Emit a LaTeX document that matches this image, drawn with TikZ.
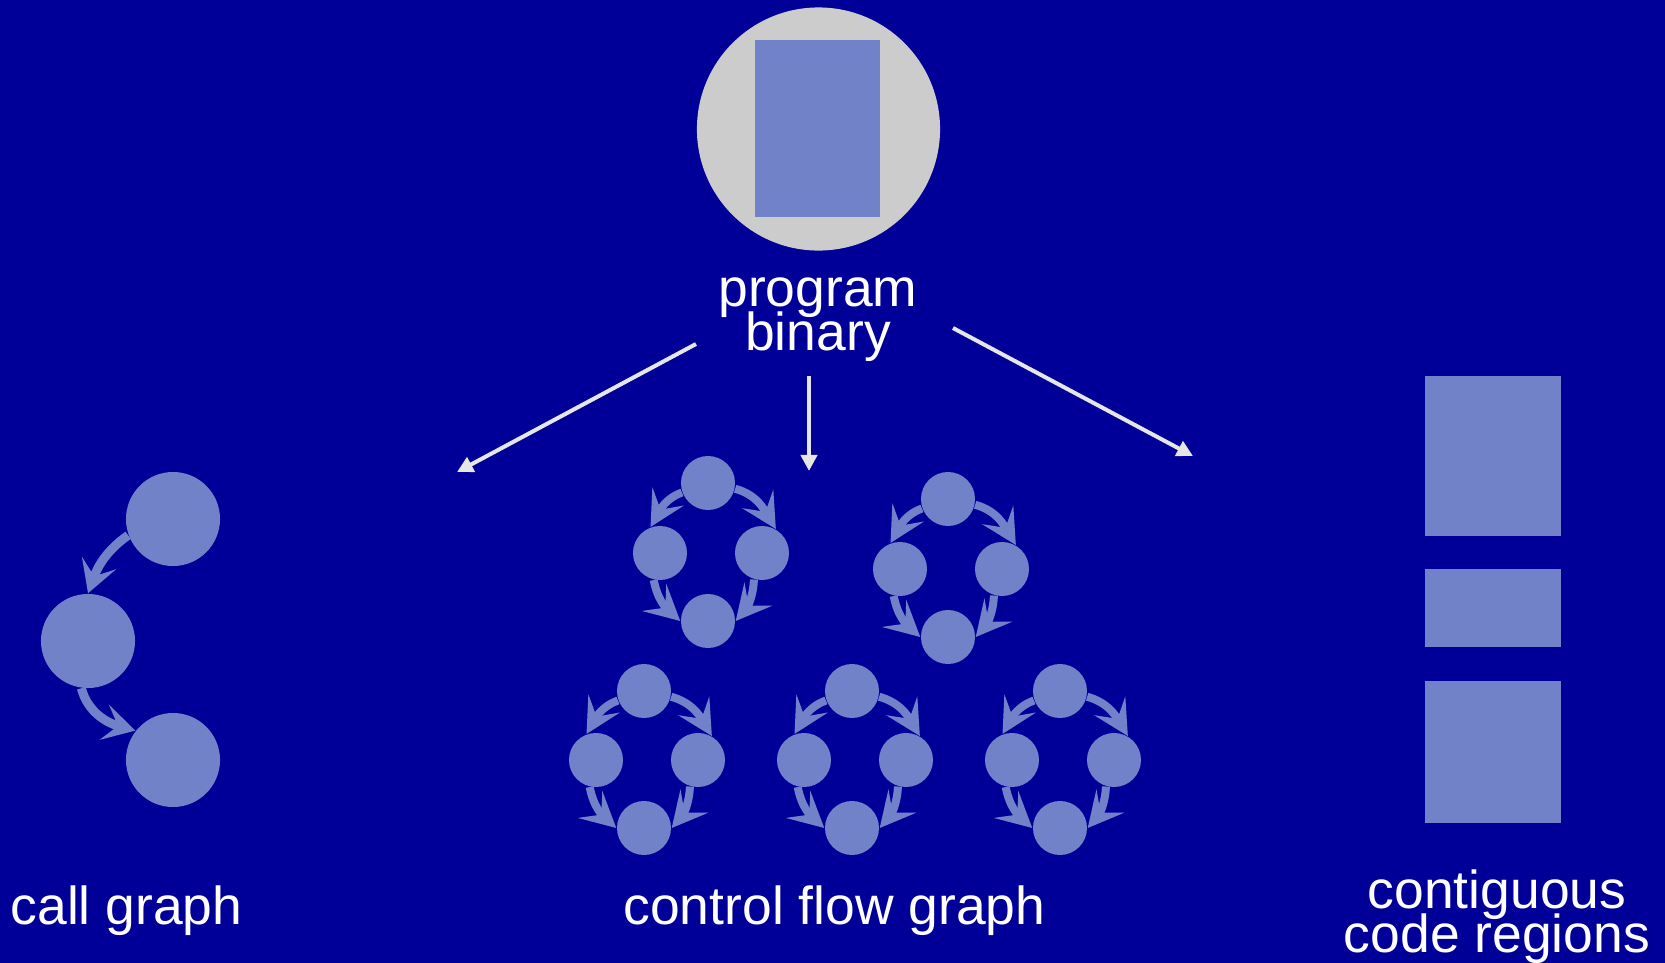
\documentclass[tikz,border=0pt]{standalone}
\usepackage{fontspec}
\setmainfont{Liberation Sans}
\usetikzlibrary{arrows.meta}

\definecolor{bgblue}{RGB}{0,0,153}
\definecolor{nodeblue}{RGB}{114,130,200}
\definecolor{binarygray}{RGB}{204,204,204}
\definecolor{feedwhite}{RGB}{230,230,230}

\tikzset{
  label/.style={text=white, inner sep=0pt, font={\fontsize{15.2}{12.5}\selectfont\lineskiplimit=-10pt}},
  cgnode/.style={circle, fill=nodeblue, minimum size=0.94cm, inner sep=0pt},
  cfnode/.style={circle, fill=nodeblue, minimum size=0.54cm, inner sep=0pt},
  region/.style={rectangle, fill=nodeblue, minimum width=1.36cm, inner sep=0pt},
  cgedge/.style={draw=nodeblue, line width=0.09cm, -{Stealth[length=0.32cm, width=0.36cm, inset=0.14cm]}},
  cfedge/.style={draw=nodeblue, line width=0.08cm, -{Stealth[length=0.35cm, width=0.36cm, inset=0.15cm]}},
  feed/.style={draw=feedwhite, line width=0.04cm, -{Triangle[length=0.16cm, width=0.16cm]}}
}

\begin{document}
\begin{tikzpicture}[x=0.01cm, y=-0.01cm]
\useasboundingbox (0,0) rectangle (1665,963);
\fill[bgblue] (0,0) rectangle (1665,963);

% the program binary
\node[circle, fill=binarygray, minimum size=2.43cm, inner sep=0pt] (bin) at (818.5,129) {};
\node[rectangle, fill=nodeblue, minimum width=1.25cm, minimum height=1.77cm, inner sep=0pt] (bin-doc) at (817.5,128.5) {};
\node[label, align=center, anchor=base] (bin-label) at (818,350) {program\\binary};

\coordinate (feed-cg-from) at (696,344);
\coordinate (feed-cg-to) at (457,472);
\coordinate (feed-cf-from) at (809,376);
\coordinate (feed-cf-to) at (809,471);
\coordinate (feed-cr-from) at (953,328);
\coordinate (feed-cr-to) at (1193,456);
\draw[feed] (feed-cg-from) -- (feed-cg-to);
\draw[feed] (feed-cf-from) -- (feed-cf-to);
\draw[feed] (feed-cr-from) -- (feed-cr-to);

% call graph
\node[cgnode] (cg-a) at (173,519) {};
\node[cgnode] (cg-b) at (88,641) {};
\node[cgnode] (cg-c) at (173,760) {};
\draw[cgedge] (cg-a.200) to[out=215, in=70] (cg-b.90);
\draw[cgedge] (cg-b.262) to[out=285, in=165] (cg-c.142);
\node[label, anchor=base] (cg-label) at (126.5,924) {call graph};

% control flow graphs
\node[cfnode] (c1-t) at (708,483) {};
\node[cfnode] (c1-l) at (660,553) {};
\node[cfnode] (c1-r) at (762,553) {};
\node[cfnode] (c1-b) at (708,621) {};
\draw[cfedge] (c1-t.200) to[out=200, in=60] (c1-l.110);
\draw[cfedge] (c1-t.348) to[out=-15, in=121] (c1-r.60);
\draw[cfedge] (c1-l.257) to[out=280, in=138] (c1-b.180);
\draw[cfedge] (c1-r.253) to[out=268, in=50] (c1-b.0);

\node[cfnode] (c2-t) at (948,499) {};
\node[cfnode] (c2-l) at (900,569) {};
\node[cfnode] (c2-r) at (1002,569) {};
\node[cfnode] (c2-b) at (948,637) {};
\draw[cfedge] (c2-t.200) to[out=200, in=60] (c2-l.110);
\draw[cfedge] (c2-t.348) to[out=-15, in=121] (c2-r.60);
\draw[cfedge] (c2-l.257) to[out=280, in=138] (c2-b.180);
\draw[cfedge] (c2-r.253) to[out=268, in=50] (c2-b.0);

\node[cfnode] (c3-t) at (644,691) {};
\node[cfnode] (c3-l) at (596,760) {};
\node[cfnode] (c3-r) at (698,760) {};
\node[cfnode] (c3-b) at (644,828) {};
\draw[cfedge] (c3-t.200) to[out=200, in=60] (c3-l.110);
\draw[cfedge] (c3-t.348) to[out=-15, in=121] (c3-r.60);
\draw[cfedge] (c3-l.257) to[out=280, in=138] (c3-b.180);
\draw[cfedge] (c3-r.253) to[out=268, in=50] (c3-b.0);

\node[cfnode] (c4-t) at (852,691) {};
\node[cfnode] (c4-l) at (804,760) {};
\node[cfnode] (c4-r) at (906,760) {};
\node[cfnode] (c4-b) at (852,828) {};
\draw[cfedge] (c4-t.200) to[out=200, in=60] (c4-l.110);
\draw[cfedge] (c4-t.348) to[out=-15, in=121] (c4-r.60);
\draw[cfedge] (c4-l.257) to[out=280, in=138] (c4-b.180);
\draw[cfedge] (c4-r.253) to[out=268, in=50] (c4-b.0);

\node[cfnode] (c5-t) at (1060,691) {};
\node[cfnode] (c5-l) at (1012,760) {};
\node[cfnode] (c5-r) at (1114,760) {};
\node[cfnode] (c5-b) at (1060,828) {};
\draw[cfedge] (c5-t.200) to[out=200, in=60] (c5-l.110);
\draw[cfedge] (c5-t.348) to[out=-15, in=121] (c5-r.60);
\draw[cfedge] (c5-l.257) to[out=280, in=138] (c5-b.180);
\draw[cfedge] (c5-r.253) to[out=268, in=50] (c5-b.0);

\node[label, anchor=base] (cf-label) at (834.5,924) {control flow graph};

% contiguous code regions
\node[region, minimum height=1.60cm] (cr-a) at (1493,456) {};
\node[region, minimum height=0.78cm] (cr-b) at (1493,608) {};
\node[region, minimum height=1.42cm] (cr-c) at (1493,752) {};
\node[label, align=center, anchor=base] (cr-label) at (1497,952) {contiguous\\code regions};

\end{tikzpicture}
\end{document}
